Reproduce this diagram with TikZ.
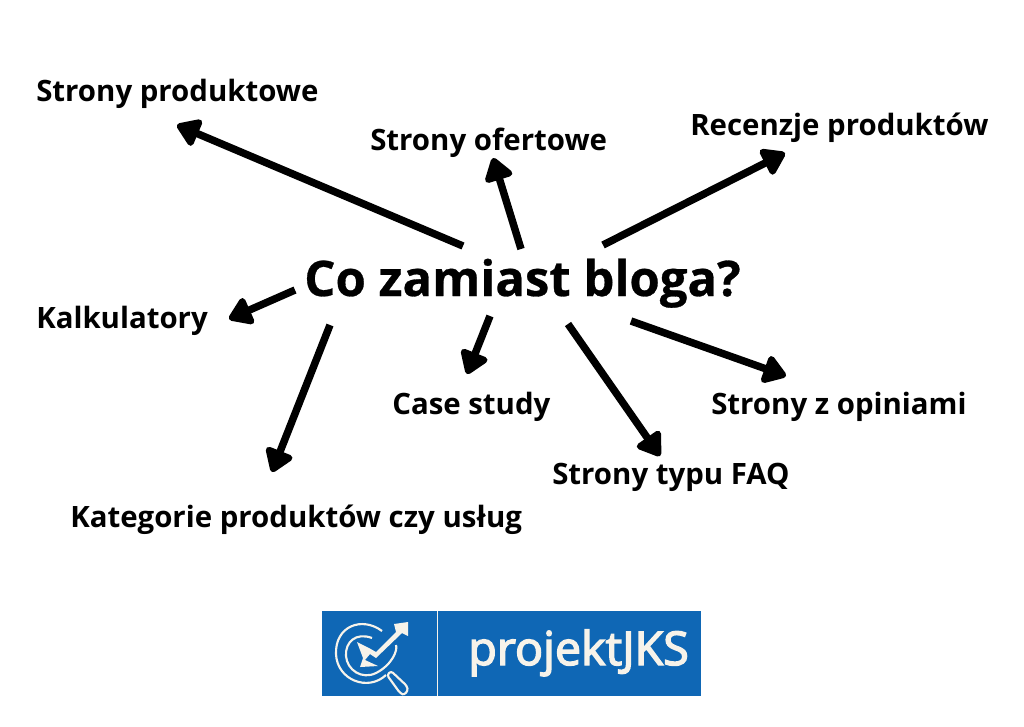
\documentclass[tikz,border=0pt]{standalone}
\usepackage{fontspec}
\setmainfont{Open Sans}
\newfontfamily\brandfont[FakeBold=3]{Open Sans}
\newfontfamily\titlefont[BoldFeatures={FakeBold=0.6}]{Open Sans}
\usetikzlibrary{arrows.meta}
\definecolor{logoblue}{HTML}{0F67B5}
\definecolor{logocream}{HTML}{F7F3EA}
\tikzset{
  topic/.style={font=\bfseries\fontsize{22.05}{26}\selectfont, inner sep=0pt, anchor=base west},
  pointer/.style={line width=5.6pt, -{Triangle[length=19pt,width=24pt,round]}},
  logoline/.style={draw=logocream, line width=1.6pt}
}
\begin{document}
\begin{tikzpicture}[x=0.75pt,y=-0.75pt]
\useasboundingbox (0,0) rectangle (1024,726);
\node[topic, font=\titlefont\bfseries\fontsize{36.8}{42}\selectfont] (title) at (304,296) {Co zamiast bloga?};
\node[topic] (produktowe) at (36,101) {Strony produktowe};
\node[topic] (ofertowe) at (370,150) {Strony ofertowe};
\node[topic] (recenzje) at (690,135) {Recenzje produktów};
\node[topic] (kalkulatory) at (36,328) {Kalkulatory};
\node[topic] (casestudy) at (392,414) {Case study};
\node[topic] (opinie) at (711,414) {Strony z opiniami};
\node[topic] (faq) at (552,484) {Strony typu FAQ};
\node[topic] (kategorie) at (70,527) {Kategorie produktów czy usług};
% arrow ends
\coordinate (a1) at (463,246); \coordinate (b1) at (177,125);
\coordinate (a2) at (521,249); \coordinate (b2) at (493,158);
\coordinate (a3) at (603,245); \coordinate (b3) at (785,153);
\coordinate (a4) at (295,290); \coordinate (b4) at (229,319);
\coordinate (a5) at (330,325); \coordinate (b5) at (272,472);
\coordinate (a6) at (490,316); \coordinate (b6) at (467,374);
\coordinate (a7) at (568,324); \coordinate (b7) at (660,456);
\coordinate (a8) at (631,321); \coordinate (b8) at (786,376);
\foreach \i in {1,...,8}
  \draw[pointer] (a\i) -- (b\i);
% logo
\fill[logoblue] (322,611) rectangle (701,696);
\draw[logocream, line width=0.9pt] (437.5,611) -- (437.5,696);
\node[font=\brandfont\fontsize{35}{38}\selectfont, text=logocream, inner sep=0pt, anchor=base west] (brand) at (468,665) {projektJKS};
\draw[logoline] (382,631) .. controls (362,616) and (335,626) .. (336,654) .. controls (337,680) and (368,692) .. (386,675);
\draw[logoline] (372,638) .. controls (356,632) and (345,642) .. (346,656) .. controls (347,670) and (362,680) .. (376,673) .. controls (392,665) and (398,650) .. (396,645);
\fill[logocream] (357,642) -- (369,648) -- (376,652) -- (396,632) -- (394,624) -- (408,622) -- (408,636) -- (402,633) -- (376,658) -- (370,654) -- (365,660) -- (378,666) -- (360,667) -- (363,658) -- cycle;
\draw[logoline, rounded corners=2pt] (387,675) -- (391,671) -- (407,686) .. controls (408,692) and (404,695) .. (400,693) -- cycle;
\end{tikzpicture}
\end{document}
